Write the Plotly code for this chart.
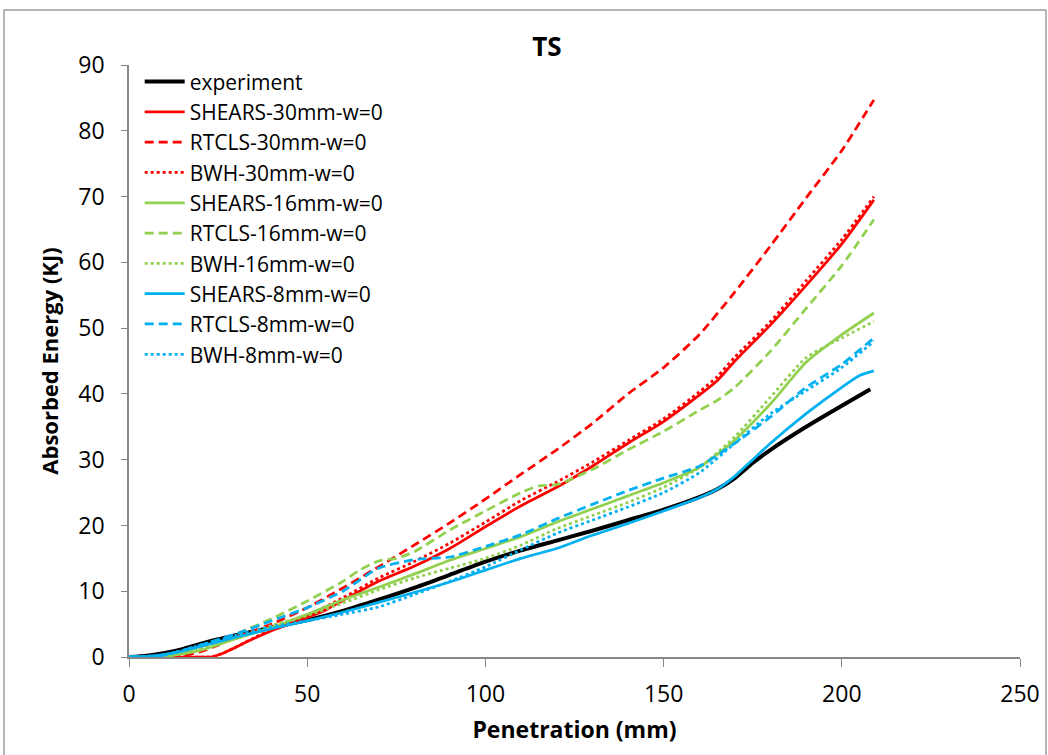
import plotly.graph_objects as go

# ---- data ----
exp_x = [0, 5, 10, 15, 20, 25, 30, 40, 50, 60, 70, 80, 90, 100, 110, 120, 130, 140, 150, 160, 165, 170, 175, 180, 190, 200, 208]
exp_y = [0, 0.2, 0.6, 1.2, 2.0, 2.7, 3.3, 4.5, 5.6, 7.0, 8.7, 10.5, 12.5, 14.5, 16.2, 17.7, 19.2, 20.8, 22.4, 24.3, 25.5, 27.2, 29.5, 31.5, 35.0, 38.2, 40.7]

s30_x = [0, 10, 20, 23, 26, 30, 35, 40, 50, 55, 60, 70, 80, 90, 100, 110, 120, 130, 140, 150, 160, 165, 170, 180, 190, 200, 209]
s30_y = [0, 0, 0, 0, 0.5, 1.5, 2.8, 4.0, 6.0, 7.1, 8.6, 11.5, 13.8, 16.5, 19.8, 23.0, 25.8, 29.0, 32.5, 35.8, 39.8, 42.0, 45.0, 50.5, 56.5, 62.8, 69.5]

r30_x = [0, 10, 15, 20, 25, 30, 40, 50, 60, 70, 80, 90, 100, 110, 120, 130, 140, 150, 160, 170, 180, 190, 200, 209]
r30_y = [0, 0, 0.2, 0.8, 1.8, 3.0, 5.0, 7.5, 10.5, 13.7, 17.0, 20.4, 24.0, 27.8, 31.5, 35.5, 40.0, 44.0, 49.0, 55.5, 62.5, 69.8, 77.0, 84.7]

b30_x = [0, 10, 20, 23, 26, 30, 35, 40, 50, 60, 70, 80, 90, 100, 110, 120, 130, 140, 150, 160, 165, 170, 180, 190, 200, 209]
b30_y = [0, 0, 0, 0, 0.5, 1.5, 2.9, 4.2, 6.3, 9.0, 12.0, 14.5, 17.3, 20.5, 23.8, 26.6, 29.6, 32.9, 36.2, 40.3, 42.6, 45.6, 51.0, 57.2, 63.5, 70.0]

s16_x = [0, 10, 20, 30, 40, 50, 60, 70, 80, 90, 100, 110, 120, 130, 140, 150, 160, 170, 180, 190, 200, 209]
s16_y = [0, 0.1, 1.0, 2.8, 4.5, 6.5, 8.7, 10.6, 12.6, 14.7, 16.5, 18.3, 20.5, 22.5, 24.5, 26.5, 28.8, 33.0, 38.5, 44.8, 49.0, 52.3]

r16_x = [0, 10, 20, 30, 40, 50, 60, 65, 70, 75, 80, 90, 100, 110, 115, 120, 130, 140, 150, 160, 165, 170, 180, 190, 200, 209]
r16_y = [0, 0.2, 1.5, 3.5, 5.8, 8.5, 11.5, 13.3, 14.6, 15.0, 16.0, 19.3, 22.2, 25.0, 26.0, 26.2, 28.5, 31.5, 34.3, 37.5, 39.0, 41.0, 46.5, 53.0, 59.5, 66.5]

b16_x = [0, 10, 20, 30, 40, 50, 60, 70, 80, 90, 100, 110, 120, 130, 140, 150, 160, 170, 180, 190, 200, 209]
b16_y = [0, 0.1, 1.2, 3.0, 4.8, 6.3, 8.2, 10.2, 12.0, 13.5, 15.0, 17.0, 19.5, 21.5, 23.5, 25.8, 28.8, 33.5, 39.5, 45.5, 48.5, 51.0]

s8_x = [0, 5, 10, 15, 20, 25, 30, 40, 50, 60, 70, 80, 90, 100, 110, 120, 130, 140, 150, 160, 165, 170, 175, 180, 190, 200, 205, 209]
s8_y = [0, 0.1, 0.4, 0.9, 1.6, 2.3, 3.0, 4.3, 5.5, 6.8, 8.3, 9.8, 11.4, 13.2, 15.0, 16.5, 18.5, 20.3, 22.2, 24.2, 25.5, 27.5, 30.0, 32.5, 37.0, 41.0, 42.8, 43.5]

r8_x = [0, 10, 20, 30, 40, 50, 60, 70, 80, 90, 100, 110, 120, 130, 140, 150, 160, 170, 180, 190, 200, 209]
r8_y = [0, 0.3, 1.8, 3.5, 5.5, 7.5, 10.0, 13.5, 14.8, 15.2, 16.8, 18.6, 21.0, 23.2, 25.3, 27.2, 29.0, 32.5, 36.5, 41.0, 44.5, 48.5]

b8_x = [0, 10, 20, 30, 40, 50, 60, 70, 80, 90, 100, 110, 120, 130, 140, 150, 160, 170, 180, 190, 200, 209]
b8_y = [0, 0.3, 1.8, 3.3, 4.6, 5.5, 6.5, 7.6, 9.5, 11.5, 13.7, 16.3, 18.8, 20.8, 22.8, 25.0, 28.0, 32.5, 37.0, 40.5, 44.0, 48.0]

x_ticks = [0, 50, 100, 150, 200, 250]
y_ticks = [0, 10, 20, 30, 40, 50, 60, 70, 80, 90]

RED, GREEN, BLUE = "#FF0000", "#92D050", "#00B0F0"
DASH = "9px,5px"
DOT = "3px,3px"

series = [
    ("experiment", exp_x, exp_y, "black", "solid", 4),
    ("SHEARS-30mm-w=0", s30_x, s30_y, RED, "solid", 2.75),
    ("RTCLS-30mm-w=0", r30_x, r30_y, RED, DASH, 2.75),
    ("BWH-30mm-w=0", b30_x, b30_y, RED, DOT, 2.75),
    ("SHEARS-16mm-w=0", s16_x, s16_y, GREEN, "solid", 2.75),
    ("RTCLS-16mm-w=0", r16_x, r16_y, GREEN, DASH, 2.75),
    ("BWH-16mm-w=0", b16_x, b16_y, GREEN, DOT, 2.75),
    ("SHEARS-8mm-w=0", s8_x, s8_y, BLUE, "solid", 2.75),
    ("RTCLS-8mm-w=0", r8_x, r8_y, BLUE, DASH, 2.75),
    ("BWH-8mm-w=0", b8_x, b8_y, BLUE, DOT, 2.75),
]

FONT = "Open Sans"
fig = go.Figure()
for name, xs, ys, col, dash, w in series:
    fig.add_trace(go.Scatter(x=xs, y=ys, mode="lines", name=name,
                             line=dict(color=col, dash=dash, width=w, shape="spline", smoothing=0.6)))

fig.update_layout(
    width=1048, height=755,
    margin=dict(l=129, r=28, t=65, b=98),
    paper_bgcolor="white", plot_bgcolor="white",
    font=dict(family=FONT, color="black", size=20),
    title=dict(text="<b>TS</b>", x=547 / 1048, xanchor="center", y=1 - 47 / 755, yanchor="middle",
               font=dict(size=26, family=FONT)),
    legend=dict(x=0.012, y=1.006, xanchor="left", yanchor="top", bgcolor="rgba(0,0,0,0)",
                font=dict(size=21, family=FONT), tracegroupgap=0, itemwidth=40),
    showlegend=True,
)
fig.update_xaxes(range=[0, 250], tickvals=x_ticks, ticks="outside", ticklen=8, tickcolor="#868686",
                 showline=True, linecolor="#868686", linewidth=1.5, showgrid=False, zeroline=False,
                 ticklabelstandoff=8, automargin=False,
                 title=dict(text="<b>Penetration (mm)</b>", font=dict(size=23), standoff=14),
                 tickfont=dict(size=23))
fig.update_yaxes(range=[0, 90], tickvals=y_ticks, ticks="outside", ticklen=6, tickcolor="#868686",
                 showline=True, linecolor="#868686", linewidth=1.5, showgrid=False, zeroline=False,
                 ticklabelstandoff=12, automargin=False,
                 title=dict(text="<b>Absorbed Energy (KJ)</b>", font=dict(size=22), standoff=14),
                 tickfont=dict(size=23))
fig.add_shape(type="rect", xref="paper", yref="paper",
              x0=(4 - 129) / 891, x1=(1046 - 129) / 891, y0=-0.3, y1=(657 - 10) / 592,
              line=dict(color="#A0A0A0", width=1.5), fillcolor="rgba(0,0,0,0)", layer="below")

fig.write_html("out.html")
